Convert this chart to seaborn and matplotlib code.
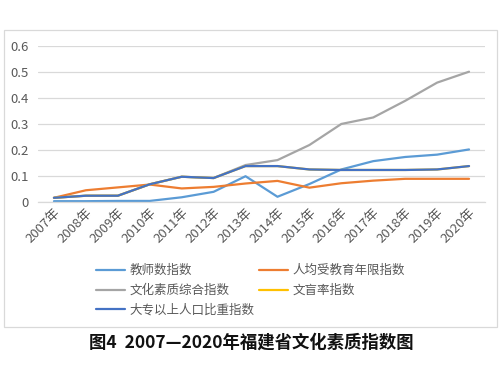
import matplotlib
matplotlib.use("Agg")
import matplotlib.pyplot as plt
import seaborn as sns
import pandas as pd
from matplotlib.patches import Rectangle

years = ["2007年", "2008年", "2009年", "2010年", "2011年", "2012年", "2013年",
         "2014年", "2015年", "2016年", "2017年", "2018年", "2019年", "2020年"]
teacher = [0.002, 0.002, 0.003, 0.003, 0.017, 0.038, 0.098, 0.019, 0.068, 0.124, 0.156, 0.172, 0.181, 0.201]
edu_years = [0.015, 0.044, 0.055, 0.066, 0.051, 0.057, 0.070, 0.080, 0.054, 0.071, 0.081, 0.088, 0.088, 0.088]
composite = [0.015, 0.023, 0.023, 0.067, 0.096, 0.091, 0.141, 0.160, 0.218, 0.299, 0.324, 0.388, 0.458, 0.500]
illiteracy = [0.015, 0.023, 0.023, 0.067, 0.096, 0.091, 0.137, 0.137, 0.124, 0.122, 0.122, 0.122, 0.124, 0.137]
college = [0.015, 0.023, 0.023, 0.067, 0.096, 0.091, 0.137, 0.137, 0.124, 0.122, 0.122, 0.122, 0.124, 0.137]

names = ["教师数指数", "人均受教育年限指数", "文化素质综合指数", "文盲率指数", "大专以上人口比重指数"]
series = [teacher, edu_years, composite, illiteracy, college]
colors = ["#5B9BD5", "#ED7D31", "#A5A5A5", "#FFC000", "#4472C4"]

rows = []
for n, vals in zip(names, series):
    for i, v in enumerate(vals):
        rows.append({"year": i, "label": years[i], "value": v, "series": n})
df = pd.DataFrame(rows)

sns.set_theme(style="white")
plt.rcParams["font.family"] = ["Noto Sans CJK SC", "DejaVu Sans"]

fig = plt.figure(figsize=(4.99, 3.69), dpi=100)
ax = fig.add_axes([38 / 499, 1 - 201.7 / 369, (485 - 38) / 499, (201.7 - 45.7) / 369])

sns.lineplot(data=df, x="year", y="value", hue="series", hue_order=names,
             palette=colors, linewidth=1.6, ax=ax, legend=False, sort=False)

ax.set_xlim(-0.5, 13.5)
ax.set_ylim(0, 0.6)
ax.set_yticks([0, 0.1, 0.2, 0.3, 0.4, 0.5, 0.6])
ax.set_yticklabels(["0", "0.1", "0.2", "0.3", "0.4", "0.5", "0.6"])
ax.set_xticks(range(len(years)))
ax.set_xticklabels(years, rotation=45, ha="right", rotation_mode="anchor")
ax.tick_params(axis="both", length=0, labelsize=9.5, colors="#595959")
ax.tick_params(axis="y", pad=7)
ax.tick_params(axis="x", pad=3)
ax.yaxis.grid(True, color="#D9D9D9", linewidth=0.9)
ax.set_axisbelow(True)
for s in ["top", "right", "left"]:
    ax.spines[s].set_visible(False)
ax.spines["bottom"].set_color("#D9D9D9")
ax.spines["bottom"].set_linewidth(0.9)
ax.set_xlabel("")
ax.set_ylabel("")

handles = {n: plt.Line2D([], [], color=c, linewidth=1.6) for n, c in zip(names, colors)}
order = [names[0], names[2], names[4], names[1], names[3]]
fig.legend([handles[n] for n in order], order, ncol=2, frameon=False,
           loc="upper left", bbox_to_anchor=(96 / 499, 1 - 264 / 369),
           fontsize=9, labelcolor="#595959", handlelength=2.3, handletextpad=0.4,
           columnspacing=0.35, labelspacing=0.55, borderaxespad=0, borderpad=0)

fig.patches.append(Rectangle((4 / 499, 1 - 327 / 369), 493 / 499, 297 / 369,
                             transform=fig.transFigure, fill=False,
                             edgecolor="#D9D9D9", linewidth=0.9))

fig.text(251 / 499, 1 - 343 / 369, "图4  2007—2020年福建省文化素质指数图",
         ha="center", va="center", fontsize=12.5, fontweight="bold", color="#111111")

fig.savefig("out.png", dpi=100, facecolor="white")
